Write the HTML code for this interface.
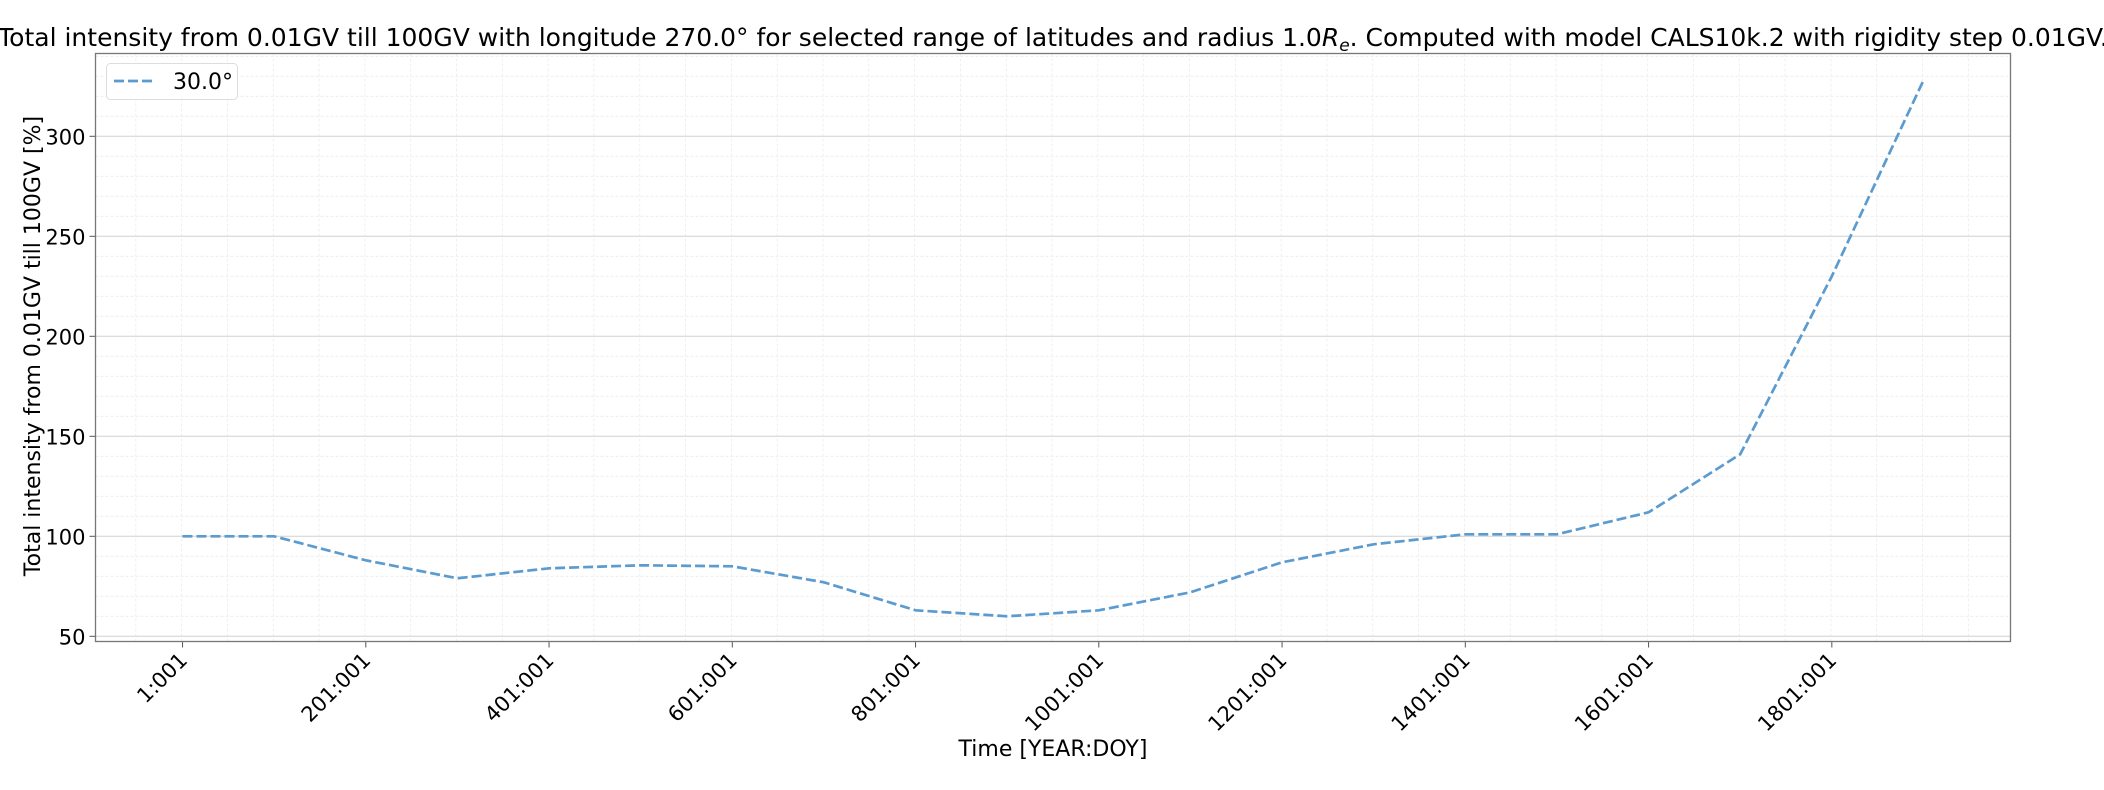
<!DOCTYPE html>
<html><head><meta charset="utf-8"><style>
body{margin:0;background:#fff;}
svg text{font-family:"DejaVu Sans","Liberation Sans",sans-serif;fill:#000;}
</style></head><body>
<svg id="chart" width="2104" height="785" xmlns="http://www.w3.org/2000/svg">
<text x="1053" y="46" font-size="25" text-anchor="middle">Total intensity from 0.01GV till 100GV with longitude 270.0° for selected range of latitudes and radius 1.0<tspan font-style="italic">R</tspan><tspan font-style="italic" font-size="17" dy="5">e</tspan><tspan dy="-5">. Computed with model CALS10k.2 with rigidity step 0.01GV.</tspan></text>
<g id="grid"></g>
<g id="ticks"></g>
<g id="series"></g>
<rect x="95.5" y="53.5" width="1915" height="588" fill="none" stroke="#777" stroke-width="1.3"/>
<text transform="translate(40,346) rotate(-90)" font-size="22" text-anchor="middle">Total intensity from 0.01GV till 100GV [%]</text>
<text x="1053" y="756" font-size="22" text-anchor="middle">Time [YEAR:DOY]</text>
<g>
<rect x="106.5" y="63.5" width="131" height="36" rx="4" fill="#fff" fill-opacity="0.85" stroke="#ddd"/>
<line x1="114" y1="81" x2="155" y2="81" stroke="#5b9bd0" stroke-width="2.7" stroke-dasharray="10,4"/>
<text x="173" y="89" font-size="22">30.0°</text>
</g>
</svg>
<script>
const years=[1,101,201,301,401,501,601,701,801,901,1001,1101,1201,1301,1401,1501,1601,1701,1801,1901];
const values=[100,100,88,79,84,85.5,85,77,63,60,63,72,87,96,101,101,112,141,230,328];
const xTickYears=[1,201,401,601,801,1001,1201,1401,1601,1801];
const xTickLabels=["1:001","201:001","401:001","601:001","801:001","1001:001","1201:001","1401:001","1601:001","1801:001"];
const yTicks=[50,100,150,200,250,300];
const L=95.5,R=2010.5,T=53.5,B=641.5;
const xMin=-94,xMax=1996,yMin=47.4,yMax=341.4;
const xs=v=>L+(v-xMin)/(xMax-xMin)*(R-L);
const ys=v=>B-(v-yMin)/(yMax-yMin)*(B-T);
const NS="http://www.w3.org/2000/svg";
function mk(t,a,p){const e=document.createElementNS(NS,t);for(const k in a)e.setAttribute(k,a[k]);p.appendChild(e);return e;}
const grid=document.getElementById('grid'),ticks=document.getElementById('ticks'),series=document.getElementById('series');
for(let y=-50;y<=2000;y+=50){const x=xs(y);if(x<L||x>R)continue;const major=xTickYears.includes(y);
const g=mk('line',{x1:x,x2:x,y1:T,y2:B,stroke:major?'#d0d0d0':'#ececec','stroke-width':major?1:0.8,'stroke-dasharray':major?'':'3,2'},grid);

}
for(let v=50;v<=340;v+=10){const y=ys(v);const major=v%50===0;
const g=mk('line',{x1:L,x2:R,y1:y,y2:y,stroke:major?'#d0d0d0':'#ececec','stroke-width':major?1:0.8,'stroke-dasharray':major?'':'3,2'},grid);

}
xTickYears.forEach((yr,i)=>{const x=xs(yr);
const tk=mk('line',{x1:x,x2:x,y1:B,y2:B+6,stroke:'#555'},ticks);


const t=mk('text',{transform:`translate(${x+6},${B+20}) rotate(-45)`,'font-size':21,'text-anchor':'end'},ticks);
t.textContent=xTickLabels[i];

});
yTicks.forEach(v=>{const y=ys(v);
const tk=mk('line',{x1:L-6,x2:L,y1:y,y2:y,stroke:'#555'},ticks);


const t=mk('text',{x:L-10,y:y+8,'font-size':21,'text-anchor':'end'},ticks);
t.textContent=v;

});
const pts=years.map((y,i)=>xs(y).toFixed(1)+','+ys(values[i]).toFixed(1)).join(' ');
const pl=mk('polyline',{points:pts,fill:'none',stroke:'#5b9bd0','stroke-width':2.7,'stroke-dasharray':'10,4'},series);


</script>
</body></html>
